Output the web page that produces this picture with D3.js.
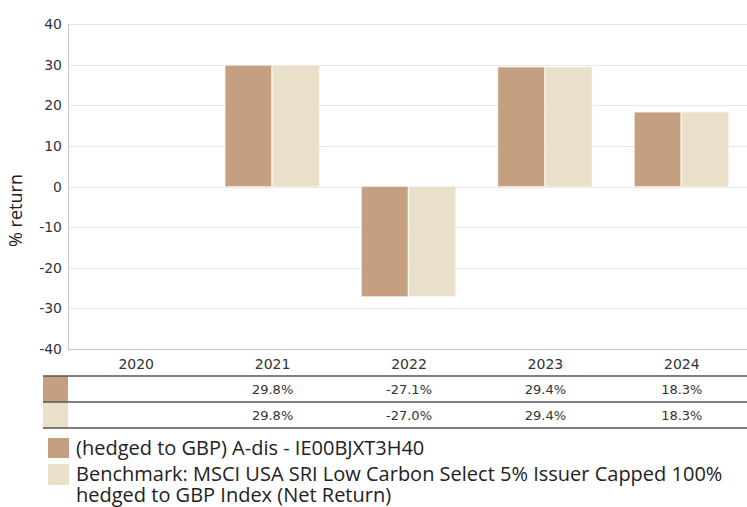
<!DOCTYPE html>
<html>
<head>
<meta charset="utf-8">
<script src="https://cdn.jsdelivr.net/npm/d3@7"></script>
<style>
  body { margin: 0; background: #fff; }
  svg { display: block; font-family: "Open Sans", "Noto Sans", sans-serif; }
</style>
</head>
<body>
<svg id="chart" width="747" height="507"></svg>
<script>
// chart data
var years = ["2020", "2021", "2022", "2023", "2024"];
var fundValues = [null, 29.8, -27.1, 29.4, 18.3];
var benchValues = [null, 29.8, -27.0, 29.4, 18.3];
var yTicks = [40, 30, 20, 10, 0, -10, -20, -30, -40];
var seriesNames = ["(hedged to GBP) A-dis - IE00BJXT3H40",
  "Benchmark: MSCI USA SRI Low Carbon Select 5% Issuer Capped 100%",
  "hedged to GBP Index (Net Return)"];
var colors = ["#c49f81", "#eae0c9"];

var svg = d3.select("#chart");
var plotLeft = 68, plotRight = 750, plotTop = 24, plotBottom = 349;
var numFont = "DejaVu Sans, sans-serif";

var x = d3.scaleBand().domain(years).range([plotLeft, plotRight]);
var y = d3.scaleLinear().domain([-40, 40]).range([plotBottom, plotTop]);

// gridlines
svg.append("g").selectAll("line")
  .data(yTicks.filter(function(d){ return d != -40; }))
  .enter().append("line")
    .attr("x1", plotLeft).attr("x2", plotRight)
    .attr("y1", function(d){ return Math.round(y(d)) + 0.5; })
    .attr("y2", function(d){ return Math.round(y(d)) + 0.5; })
    .attr("stroke", "#e6e6e6").attr("stroke-width", 1);

// y tick labels
svg.append("g").selectAll("text")
  .data(yTicks)
  .enter().append("text")
    .attr("x", 62)
    .attr("y", function(d){ return y(d) + 5; })
    .attr("text-anchor", "end")
    .attr("font-family", numFont)
    .attr("font-size", 14)
    .attr("fill", "#333")
    .text(function(d){ return d; });

// axis title
svg.append("text")
  .attr("transform", "translate(22," + ((plotTop + plotBottom) / 2 + 24) + ") rotate(-90)")
  .attr("text-anchor", "middle")
  .attr("font-size", 18)
  .attr("fill", "#222")
  .text("% return");

// bars
var inner = d3.scaleBand().domain([0, 1]).range([0, 95]);
var series = [fundValues, benchValues];
series.forEach(function(vals, s) {
  svg.append("g").selectAll("rect")
    .data(years.map(function(yr, i){ return {year: yr, v: vals[i]}; }).filter(function(d){ return d.v != null; }))
    .enter().append("rect")
      .attr("x", function(d){ return x(d.year) + (x.bandwidth() - 95) / 2 + inner(s); })
      .attr("width", inner.bandwidth() - 1)
      .attr("y", function(d){ return y(Math.max(0, d.v)); })
      .attr("height", function(d){ return Math.abs(y(d.v) - y(0)); })
      .attr("fill", colors[s])
      .attr("stroke", "#f4efe6")
      .attr("stroke-width", 0.6);
});

// axis lines
svg.append("line").attr("x1", plotLeft + 0.5).attr("x2", plotLeft + 0.5).attr("y1", plotTop).attr("y2", plotBottom + 1)
  .attr("stroke", "#c8c8c8");
svg.append("line").attr("x1", plotLeft).attr("x2", plotRight).attr("y1", plotBottom + 0.5).attr("y2", plotBottom + 0.5)
  .attr("stroke", "#c8c8c8");

// year labels
svg.append("g").selectAll("text")
  .data(years)
  .enter().append("text")
    .attr("x", function(d){ return x(d) + x.bandwidth() / 2; })
    .attr("y", 369)
    .attr("text-anchor", "middle")
    .attr("font-family", numFont)
    .attr("font-size", 14)
    .attr("fill", "#333")
    .text(function(d){ return d; });

// data table
var rowTop = 376, rowH = 26;
series.forEach(function(vals, s) {
  var ry = rowTop + s * rowH;
  svg.append("rect").attr("x", 43).attr("y", ry).attr("width", 25).attr("height", rowH)
    .attr("fill", colors[s]);
  svg.append("g").selectAll("text")
    .data(years.map(function(yr, i){ return {year: yr, v: vals[i]}; }).filter(function(d){ return d.v != null; }))
    .enter().append("text")
      .attr("x", function(d){ return x(d.year) + x.bandwidth() / 2; })
      .attr("y", ry + 18)
      .attr("text-anchor", "middle")
      .attr("font-family", numFont)
      .attr("font-size", 13)
      .attr("fill", "#333")
      .text(function(d){ return d.v.toFixed(1) + "%"; });
});
[0, 1, 2].forEach(function(i) {
  svg.append("line")
    .attr("x1", 43).attr("x2", 747)
    .attr("y1", rowTop + i * rowH).attr("y2", rowTop + i * rowH)
    .attr("stroke", "#555").attr("stroke-width", 1.5);
});

// legend
var legend = svg.append("g");
legend.append("rect").attr("x", 48).attr("y", 438).attr("width", 21).attr("height", 20).attr("fill", colors[0]);
legend.append("rect").attr("x", 48).attr("y", 464).attr("width", 21).attr("height", 21).attr("fill", colors[1]);
legend.selectAll("text")
  .data(seriesNames)
  .enter().append("text")
    .attr("x", 76)
    .attr("y", function(d, i){ return [455, 481, 502][i]; })
    .attr("font-size", 20)
    .attr("fill", "#222")
    .text(function(d){ return d; });
</script>
</body>
</html>
